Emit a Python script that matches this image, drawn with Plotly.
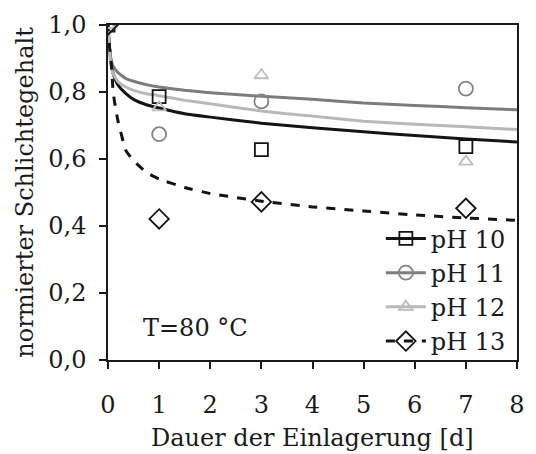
import plotly.graph_objects as go

# measured data points
days = [0, 1, 3, 7]
ph10_pts = [1.0, 0.786, 0.628, 0.637]
ph11_pts = [1.0, 0.674, 0.772, 0.810]
ph12_pts = [1.0, 0.754, 0.850, 0.592]
ph13_pts = [1.0, 0.421, 0.472, 0.453]

# fit curves
fit_x = [0, 0.015, 0.03, 0.05, 0.07, 0.1, 0.15, 0.2, 0.35, 0.5, 0.75, 1, 1.5, 2, 3, 4, 5, 6, 7, 8]
ph10_fit = [1.0, 0.96, 0.93, 0.90, 0.88, 0.856, 0.835, 0.82, 0.795, 0.778, 0.762, 0.752, 0.735, 0.725, 0.707, 0.693, 0.681, 0.670, 0.660, 0.651]
ph11_fit = [1.0, 0.96, 0.93, 0.905, 0.89, 0.877, 0.866, 0.857, 0.840, 0.832, 0.822, 0.815, 0.805, 0.798, 0.787, 0.778, 0.767, 0.760, 0.753, 0.747]
ph12_fit = [1.0, 0.955, 0.92, 0.89, 0.87, 0.855, 0.841, 0.830, 0.815, 0.805, 0.795, 0.789, 0.775, 0.765, 0.743, 0.728, 0.713, 0.704, 0.696, 0.688]
ph13_fit = [1.0, 0.96, 0.935, 0.905, 0.876, 0.80, 0.75, 0.71, 0.625, 0.595, 0.560, 0.540, 0.515, 0.497, 0.474, 0.457, 0.445, 0.433, 0.424, 0.417]

names = ["pH 10", "pH 11", "pH 12", "pH 13"]
x_ticks = [0, 1, 2, 3, 4, 5, 6, 7, 8]
y_ticks = [0.0, 0.2, 0.4, 0.6, 0.8, 1.0]
y_ticktext = ["0,0", "0,2", "0,4", "0,6", "0,8", "1,0"]
x_title = "Dauer der Einlagerung [d]"
y_title = "normierter Schlichtegehalt"

styles = [
    dict(color="#141414", dash="solid", symbol="square-open", size=13, mcolor="#141414"),
    dict(color="#7c7c7c", dash="solid", symbol="circle-open", size=14, mcolor="#858585"),
    dict(color="#b8b8b8", dash="solid", symbol="triangle-up-open", size=12, mcolor="#bdbdbd"),
    dict(color="#141414", dash="dash", symbol="diamond-open", size=15, mcolor="#141414"),
]

fits = [ph10_fit, ph11_fit, ph12_fit, ph13_fit]
pts = [ph10_pts, ph11_pts, ph12_pts, ph13_pts]

FONT = "DejaVu Serif"
FS = 24

fig = go.Figure()
for name, f, s in zip(names, fits, styles):
    fig.add_trace(go.Scatter(x=fit_x, y=f, mode="lines", showlegend=False,
                             line=dict(color=s["color"], width=3, dash=s["dash"], shape="spline", smoothing=0.3),
                             hoverinfo="skip"))
for name, p, s in zip(names, pts, styles):
    fig.add_trace(go.Scatter(x=days, y=p, mode="markers", showlegend=False,
                             marker=dict(symbol=s["symbol"], size=s["size"], color=s["mcolor"],
                                         line=dict(width=1.8, color=s["mcolor"]))))
for name, s in zip(names, styles):
    fig.add_trace(go.Scatter(x=[None], y=[None], mode="lines+markers", name=name,
                             line=dict(color=s["color"], width=3, dash=s["dash"]),
                             marker=dict(symbol=s["symbol"], size=s["size"], color=s["mcolor"],
                                         line=dict(width=1.8, color=s["mcolor"]))))

fig.add_annotation(text="T=80 °C", xref="paper", yref="paper", x=0.08, y=0.096,
                   xanchor="left", yanchor="middle", showarrow=False,
                   font=dict(family=FONT, size=FS, color="#1a1a1a"))
fig.add_annotation(text=x_title, xref="paper", yref="paper", x=0.5, y=-0.232,
                   xanchor="center", yanchor="middle", showarrow=False,
                   font=dict(family=FONT, size=FS, color="#1a1a1a"))

axis_common = dict(showline=True, linecolor="#1a1a1a", linewidth=1.5, mirror=True,
                   ticks="outside", ticklen=7, tickwidth=1.5, tickcolor="#1a1a1a",
                   showgrid=False, zeroline=False,
                   tickfont=dict(family=FONT, size=FS, color="#1a1a1a"))

fig.update_layout(
    width=536, height=454,
    margin=dict(l=108, r=11, t=17, b=94),
    paper_bgcolor="white", plot_bgcolor="white",
    font=dict(family=FONT, size=FS, color="#1a1a1a"),
    xaxis=dict(range=[0, 8], tickvals=x_ticks, ticklabelstandoff=15, **axis_common),
    yaxis=dict(range=[0, 1], tickvals=y_ticks, ticktext=y_ticktext, ticklabelstandoff=8,
               title=dict(text=y_title, font=dict(family=FONT, size=FS), standoff=8),
               **axis_common),
    legend=dict(x=0.985, y=-0.01, xanchor="right", yanchor="bottom",
                bgcolor="rgba(0,0,0,0)", font=dict(family=FONT, size=FS),
                tracegroupgap=0, itemwidth=40),
)

fig.write_html("out.html")
